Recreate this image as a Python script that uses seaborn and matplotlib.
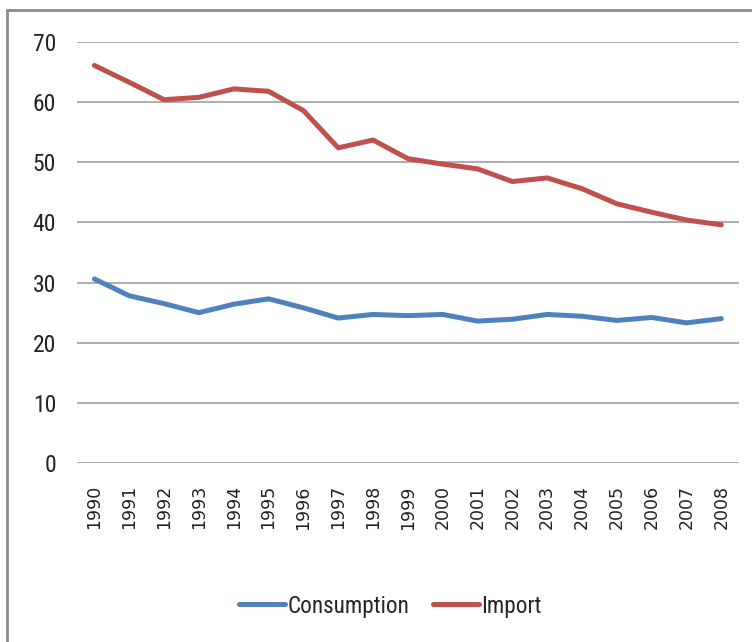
import pandas as pd
import matplotlib.pyplot as plt
import seaborn as sns
from matplotlib import font_manager
from matplotlib.lines import Line2D

# data
years = [str(y) for y in range(1990, 2009)]
consumption = [30.6, 27.8, 26.5, 25.0, 26.4, 27.3, 25.8, 24.1, 24.7, 24.5,
               24.7, 23.6, 23.9, 24.7, 24.4, 23.7, 24.2, 23.3, 24.0]
imports = [66.1, 63.3, 60.4, 60.8, 62.2, 61.8, 58.6, 52.4, 53.7, 50.6,
           49.7, 48.9, 46.8, 47.4, 45.6, 43.1, 41.7, 40.4, 39.6]
yticks = [0, 10, 20, 30, 40, 50, 60, 70]

df = pd.DataFrame({'year': years * 2,
                   'value': consumption + imports,
                   'series': ['Consumption'] * len(years) + ['Import'] * len(years)})


def pick_font(names):
    for n in names:
        try:
            font_manager.findfont(n, fallback_to_default=False)
            return n
        except ValueError:
            continue
    return 'DejaVu Sans'


narrow = pick_font(['Liberation Sans Narrow', 'Roboto Condensed', 'DejaVu Sans Condensed', 'Liberation Sans'])

sns.set_theme(style="white")
plt.rcParams['font.family'] = [narrow, 'DejaVu Sans']

fig = plt.figure(figsize=(7.52, 6.42), dpi=100)
ax = fig.add_axes([0.1024, 0.2788, 0.880, 0.6558])

sns.lineplot(data=df, x='year', y='value', hue='series',
             palette={'Consumption': '#4F81BD', 'Import': '#C0504D'},
             linewidth=3.6, sort=False, ax=ax)

ax.set_xlim(-0.5, len(years) - 0.5)
ax.set_ylim(0, 70)
ax.set_yticks(yticks)
ax.yaxis.grid(True, color='#A6A6A6', linewidth=1.3)
ax.set_axisbelow(True)
for s in ax.spines.values():
    s.set_visible(False)
ax.set_xlabel('')
ax.set_ylabel('')
ax.tick_params(axis='y', length=0, pad=15, labelsize=17, colors='#222222')
ax.tick_params(axis='x', length=0, pad=16, labelsize=12.5, colors='#222222')
for lab in ax.get_xticklabels():
    lab.set_rotation(90)
    lab.set_family('DejaVu Sans')

ax.legend(handles=ax.get_legend_handles_labels()[0],
          labels=['Consumption', 'Import'],
          loc='center', bbox_to_anchor=(0.519, 0.056), bbox_transform=fig.transFigure,
          ncol=2, frameon=False, fontsize=16.7, handlelength=2.0,
          handletextpad=0.1, columnspacing=1.0)

# outer frame (top and left edges)
fig.add_artist(Line2D([0.009, 1.0], [0.984, 0.984], color='#8C8C8C', linewidth=2, transform=fig.transFigure))
fig.add_artist(Line2D([0.009, 0.009], [0.0, 0.984], color='#8C8C8C', linewidth=2, transform=fig.transFigure))

fig.savefig('out.png', dpi=100, facecolor='white')
